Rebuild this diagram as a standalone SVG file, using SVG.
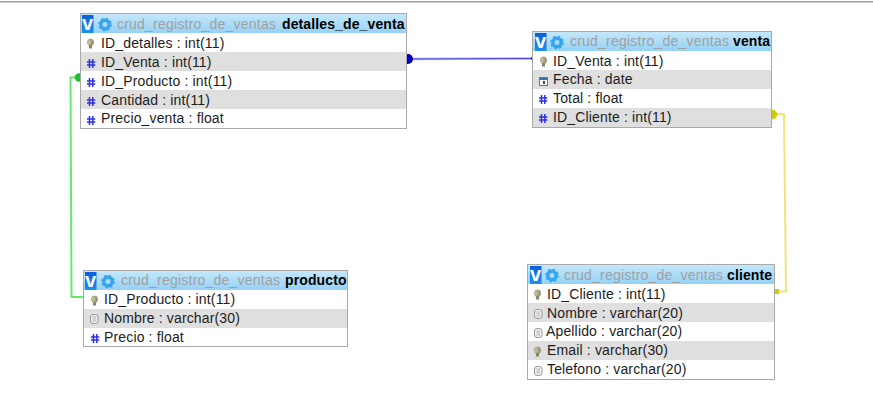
<svg xmlns="http://www.w3.org/2000/svg" xmlns:xlink="http://www.w3.org/1999/xlink" width="873" height="409" viewBox="0 0 873 409">
<style>
text{font-family:"Liberation Sans",Arial,sans-serif;font-size:14px;fill:#1c1c1c;letter-spacing:.15px}
.box{fill:#fff;stroke:#a9a9a9;stroke-width:1}
.grey{fill:#dfdfdf}
.db{fill:#a0a0a0;letter-spacing:.22px}
.tb{font-weight:bold;fill:#000;letter-spacing:.12px}
.v{font-weight:bold;fill:#fff;font-size:20px;letter-spacing:0}
.c{fill:none;stroke-width:2}
</style>
<defs>
<linearGradient id="hg" x1="0" y1="0" x2="0" y2="1"><stop offset="0" stop-color="#c4e7fb"/><stop offset="1" stop-color="#95d2f5"/></linearGradient>
<linearGradient id="vg" x1="0" y1="0" x2="0" y2="1"><stop offset="0" stop-color="#0a5fd8"/><stop offset="1" stop-color="#1e90f0"/></linearGradient>
<linearGradient id="kg" x1="0" y1="0" x2="1" y2="0"><stop offset="0" stop-color="#d8d2a8"/><stop offset="1" stop-color="#8f8a68"/></linearGradient>
<g id="vbtn"><rect y="1" width="11.500" height="18" fill="url(#vg)"/><text x="0" y="15.500" class="v">v</text></g>
<g id="gear" fill="none" stroke="#37a5ee"><circle cx="6" cy="6.500" r="4.200" stroke-width="3.400"/><circle cx="6" cy="6.500" r="6.200" stroke-width="1.400" stroke-dasharray="2.400 2.470"/></g>
<g id="key"><ellipse cx="3.500" cy="3.300" rx="3.100" ry="3.400" fill="url(#kg)" stroke="#77755e" stroke-width=".5"/><rect x="2" y="6" width="3" height="3.500" fill="#8a8468"/></g>
<g id="num" fill="none" stroke="#3030e4" stroke-width="1.500"><path d="M2.500 0V9M5.800 0V9M0 3H8.300M0 6H8.300"/></g>
<g id="txt"><rect x=".5" y=".5" width="7.500" height="9" rx="2.500" fill="#eee" stroke="#9a9a9a"/><path d="M2.500 3H6M2.500 5H6M2.500 7H6" stroke="#999" stroke-width=".7"/></g>
<g id="date"><rect x=".5" y=".5" width="8" height="8" fill="#fff" stroke="#5a7a9a"/><rect x="1" y="1" width="7" height="2" fill="#3a6ea5"/><rect x="4" y="4" width="2" height="3" fill="#444"/></g>
</defs>
<rect width="873" height="409" fill="#fff"/>
<rect y="1" width="873" height="1.500" fill="#a0a0a0"/>
<g id="connectors">
<path d="M408 59L533 58.500" fill="none" stroke="#b4b4f4" stroke-width="2.500"/>
<path d="M408 59L533 58.500" fill="none" stroke="#2a2ae0" stroke-width=".8"/>
<circle cx="408" cy="59" r="5" fill="#0000c8"/>
<circle cx="533" cy="58.500" r="2" fill="#2222cc"/>
<path class="c" stroke="#66ea66" d="M78 77.500H70.500L71.500 297H84"/>
<circle cx="79" cy="77.500" r="4.200" fill="#20c030"/>
<circle cx="85" cy="297" r="1.500" fill="#20c030"/>
<path class="c" stroke="#ebe77c" d="M773 114H784L786 291.500H775"/>
<circle cx="772.500" cy="114.500" r="4.700" fill="#cfca10"/>
<rect x="775" y="289" width="4" height="5" fill="#cfca10"/>
</g>
<g id="detalles_de_venta">
<rect class="box" x="80.500" y="13.500" width="326" height="115"/>
<rect x="81" y="14" width="325" height="19" fill="url(#hg)"/>
<use xlink:href="#vbtn" x="82" y="14"/><use xlink:href="#gear" x="99" y="18"/>
<text x="117" y="29" class="db">crud_registro_de_ventas</text><text x="282" y="29" class="tb">detalles_de_venta</text>
<rect class="grey" x="81" y="52" width="325" height="19"/><rect class="grey" x="81" y="90" width="325" height="19"/>
<use xlink:href="#key" x="87" y="39"/><text x="101" y="48">ID_detalles : int(11)</text>
<use xlink:href="#num" x="87" y="59"/><text x="101" y="67">ID_Venta : int(11)</text>
<use xlink:href="#num" x="87" y="78"/><text x="101" y="86">ID_Producto : int(11)</text>
<use xlink:href="#num" x="87" y="97"/><text x="101" y="105">Cantidad : int(11)</text>
<use xlink:href="#num" x="87" y="116"/><text x="101" y="123">Precio_venta : float</text>
</g>
<g id="venta">
<rect class="box" x="532.500" y="31.500" width="239" height="96"/>
<rect x="533" y="32" width="238" height="19" fill="url(#hg)"/>
<use xlink:href="#vbtn" x="535" y="32"/><use xlink:href="#gear" x="551" y="36"/>
<text x="570" y="46" class="db">crud_registro_de_ventas</text><text x="733" y="46" class="tb">venta</text>
<rect class="grey" x="533" y="70" width="238" height="19"/><rect class="grey" x="533" y="108" width="238" height="19"/>
<use xlink:href="#key" x="540" y="57"/><text x="553" y="66">ID_Venta : int(11)</text>
<use xlink:href="#date" x="539" y="77"/><text x="553" y="84">Fecha : date</text>
<use xlink:href="#num" x="539" y="95"/><text x="553" y="103">Total : float</text>
<use xlink:href="#num" x="539" y="114"/><text x="553" y="122">ID_Cliente : int(11)</text>
</g>
<g id="producto">
<rect class="box" x="83.500" y="270.500" width="264" height="76"/>
<rect x="84" y="271" width="263" height="19" fill="url(#hg)"/>
<use xlink:href="#vbtn" x="85" y="271"/><use xlink:href="#gear" x="102" y="275"/>
<text x="121" y="285" class="db">crud_registro_de_ventas</text><text x="285" y="285" class="tb">producto</text>
<rect class="grey" x="84" y="309" width="263" height="19"/>
<use xlink:href="#key" x="91" y="296"/><text x="104" y="304">ID_Producto : int(11)</text>
<use xlink:href="#txt" x="90" y="314"/><text x="104" y="323">Nombre : varchar(30)</text>
<use xlink:href="#num" x="91" y="334"/><text x="104" y="342">Precio : float</text>
</g>
<g id="cliente">
<rect class="box" x="527.500" y="264.500" width="247" height="115"/>
<rect x="528" y="265" width="246" height="19" fill="url(#hg)"/>
<use xlink:href="#vbtn" x="530" y="265"/><use xlink:href="#gear" x="546" y="269"/>
<text x="564" y="280" class="db">crud_registro_de_ventas</text><text x="727" y="280" class="tb">cliente</text>
<rect class="grey" x="528" y="303" width="246" height="19"/><rect class="grey" x="528" y="341" width="246" height="19"/>
<use xlink:href="#key" x="534" y="290"/><text x="547" y="299">ID_Cliente : int(11)</text>
<use xlink:href="#txt" x="534" y="309"/><text x="547" y="318">Nombre : varchar(20)</text>
<use xlink:href="#txt" x="534" y="328"/><text x="546" y="336">Apellido : varchar(20)</text>
<use xlink:href="#key" x="534" y="347"/><text x="547" y="355">Email : varchar(30)</text>
<use xlink:href="#txt" x="534" y="366"/><text x="547" y="374">Telefono : varchar(20)</text>
</g>
</svg>
